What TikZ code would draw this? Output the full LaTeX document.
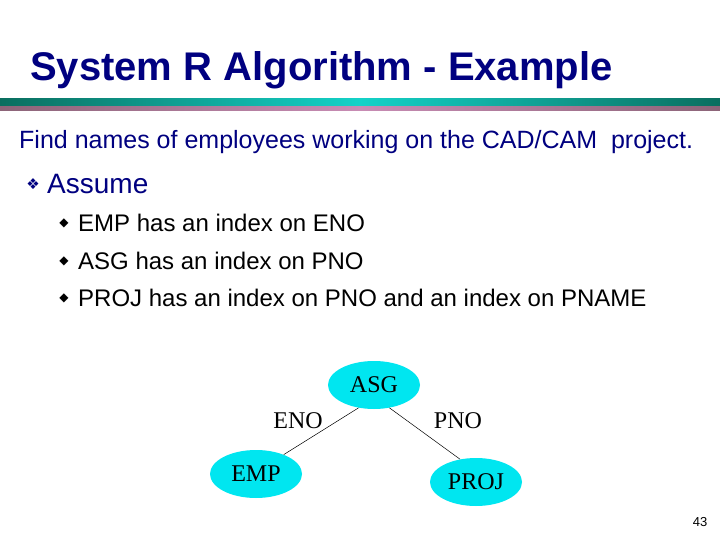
\documentclass[tikz,border=0pt]{standalone}
\usepackage{fontspec}
\setmainfont{Liberation Sans}
\newfontfamily\serifb{Liberation Serif}
\newfontfamily\dejavu{DejaVu Sans}
\usetikzlibrary{shapes.geometric}
\definecolor{navy}{RGB}{0,0,128}
\definecolor{tealdark}{RGB}{10,110,95}
\definecolor{tealmid}{RGB}{20,210,200}
\definecolor{purdark}{RGB}{140,100,120}
\definecolor{purmid}{RGB}{200,140,180}
\definecolor{cyanfill}{RGB}{0,230,240}
\tikzset{
 ent/.style={ellipse,fill=cyanfill,minimum width=92pt,minimum height=48pt,inner sep=0pt,font=\serifb\fontsize{24}{24}\selectfont},
 lab/.style={font=\serifb\fontsize{24}{24}\selectfont},
 txt/.style={anchor=west,inner sep=0pt,font=\fontsize{24}{24}\selectfont},
 edge/.style={draw=black,line width=0.5pt}
}
\begin{document}
\begin{tikzpicture}[x=1pt,y=-1pt]
\useasboundingbox (0,0) rectangle (720,540);
\fill[white] (0,0) rectangle (720,540);
\node[anchor=west,inner sep=0pt,text=navy,font=\bfseries\fontsize{40}{40}\selectfont] (title) at (30,70) {System R Algorithm - Example};
\shade[left color=tealdark,right color=tealmid] (0,99) rectangle (360,106);
\shade[left color=tealmid,right color=tealdark] (360,99) rectangle (720,106);
\shade[left color=purdark,right color=purmid] (0,107) rectangle (360,111);
\shade[left color=purmid,right color=purdark] (360,107) rectangle (720,111);
\node[txt,text=navy,font=\fontsize{25}{25}\selectfont] (find) at (19,142) {Find names of employees working on the CAD/CAM\ \ project.};
\node[anchor=center,inner sep=0pt,text=navy,font=\dejavu\fontsize{15}{15}\selectfont] (b0) at (33,184) {❖};
\node[txt,text=navy,font=\fontsize{28}{28}\selectfont] (assume) at (47,184) {Assume};
\node[anchor=center,inner sep=0pt,font=\dejavu\fontsize{12}{12}\selectfont] (b1) at (64,223) {◆};
\node[txt] (l1) at (78,223) {EMP has an index on ENO};
\node[anchor=center,inner sep=0pt,font=\dejavu\fontsize{12}{12}\selectfont] (b2) at (64,261) {◆};
\node[txt] (l2) at (78,261) {ASG has an index on PNO};
\node[anchor=center,inner sep=0pt,font=\dejavu\fontsize{12}{12}\selectfont] (b3) at (64,298) {◆};
\node[txt] (l3) at (78,298) {PROJ has an index on PNO and an index on PNAME};
\node[ent] (asg) at (374,385) {ASG};
\node[ent] (emp) at (256,474) {EMP};
\node[ent] (proj) at (476,482) {PROJ};
\draw[edge] (asg.236) -- (emp.35);
\draw[edge] (asg.304) -- (proj.125);
\node[lab] (eno) at (298,421) {ENO};
\node[lab] (pno) at (458,421) {PNO};
\node[inner sep=0pt,font=\fontsize{13}{13}\selectfont] (pg) at (700,522) {43};
\end{tikzpicture}
\end{document}
